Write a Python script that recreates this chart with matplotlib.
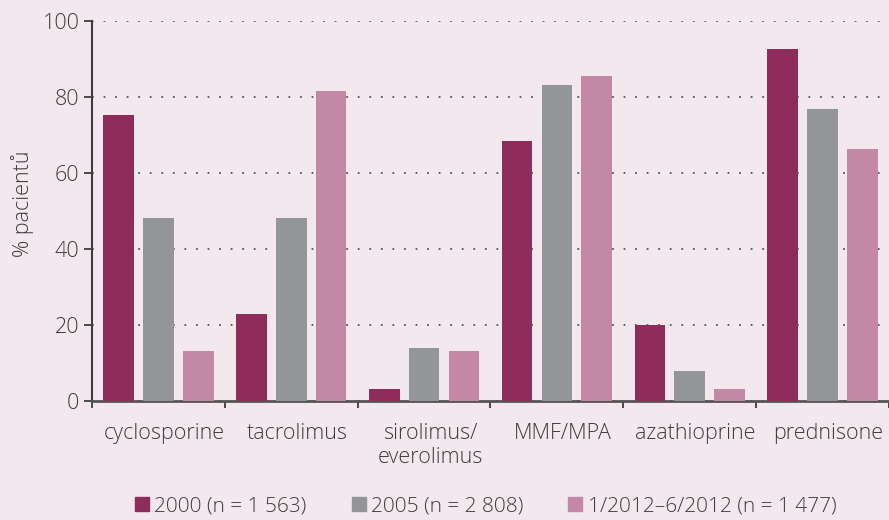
import matplotlib
matplotlib.use("Agg")
import matplotlib.pyplot as plt
import matplotlib.transforms as mtransforms
from matplotlib.lines import Line2D
import numpy as np

categories = ["cyclosporine", "tacrolimus", "sirolimus/\neverolimus", "MMF/MPA", "azathioprine", "prednisone"]
series_labels = ["2000 (n = 1 563)", "2005 (n = 2 808)", "1/2012\u20136/2012 (n = 1 477)"]
v2000 = [75.3, 22.9, 3.2, 68.4, 20.0, 92.6]
v2005 = [48.2, 48.2, 14.0, 83.2, 7.9, 76.8]
v2012 = [13.2, 81.6, 13.2, 85.5, 3.2, 66.3]
y_ticks = [0, 20, 40, 60, 80, 100]
y_label = "% pacientů"

colors = ["#8e2c5c", "#949599", "#c288a5"]
bg = "#f3e8ee"
txt = "#3d3d3d"

plt.rcParams['font.family'] = ['Open Sans', 'DejaVu Sans']

fig = plt.figure(figsize=(8.89, 5.2), dpi=100, facecolor=bg)
ax = fig.add_axes([92/889, 1-401/520, 1-92/889, 380/520])
ax.set_facecolor(bg)

x = np.arange(len(categories))
w = 0.23
step = 0.30
for i, (vals, c, lab) in enumerate(zip([v2000, v2005, v2012], colors, series_labels)):
    ax.bar(x + (i-1)*step, vals, width=w, color=c, label=lab, zorder=3)

ax.set_xlim(-0.5, len(categories)-0.5)
ax.set_ylim(0, 100)
ax.set_yticks(y_ticks)
ax.set_yticklabels([str(t) for t in y_ticks], fontsize=15.5, color=txt, fontweight='light')
ax.yaxis.grid(True, linestyle=(0, (1, 5.4)), color="#555555", linewidth=1.3, zorder=0)
ax.set_axisbelow(True)

ax.set_xticks(np.arange(len(categories)+1) - 0.5)
ax.set_xticklabels([])
ax.set_xticks(x, minor=True)
ax.set_xticklabels(categories, minor=True, fontsize=15.5, color=txt, fontweight='light', linespacing=1.2, va='top')
ax.tick_params(axis='x', which='minor', length=0, pad=16)
ax.tick_params(axis='x', which='major', length=5, width=1.3, color="#3d3d3d", direction='out')
ax.tick_params(axis='y', length=6, width=1.3, color="#3d3d3d", pad=3)
offset = mtransforms.ScaledTranslation(6/100, 0, fig.dpi_scale_trans)
for lab in ax.get_xticklabels(minor=True):
    lab.set_transform(lab.get_transform() + offset)

for s in ['top', 'right']:
    ax.spines[s].set_visible(False)
ax.spines['left'].set_color("#3d3d3d")
ax.spines['left'].set_linewidth(1.5)
ax.spines['bottom'].set_color("#555555")
ax.spines['bottom'].set_linewidth(2)

ax.set_ylabel(y_label, fontsize=15.5, color=txt, fontweight='light')
ax.yaxis.set_label_coords(-58/797, 0.52)

handles = [Line2D([], [], marker='s', linestyle='none', markersize=10.5, markerfacecolor=c, markeredgecolor=c) for c in colors]
leg = fig.legend(handles, series_labels, loc='center', bbox_to_anchor=(486/889, 1-506/520), ncol=3,
                 frameon=False, handlelength=0.6, handletextpad=0.3, columnspacing=2.2,
                 labelcolor=txt, prop={'weight': 'light', 'size': 15})

fig.savefig("out.png", dpi=100, facecolor=bg)
